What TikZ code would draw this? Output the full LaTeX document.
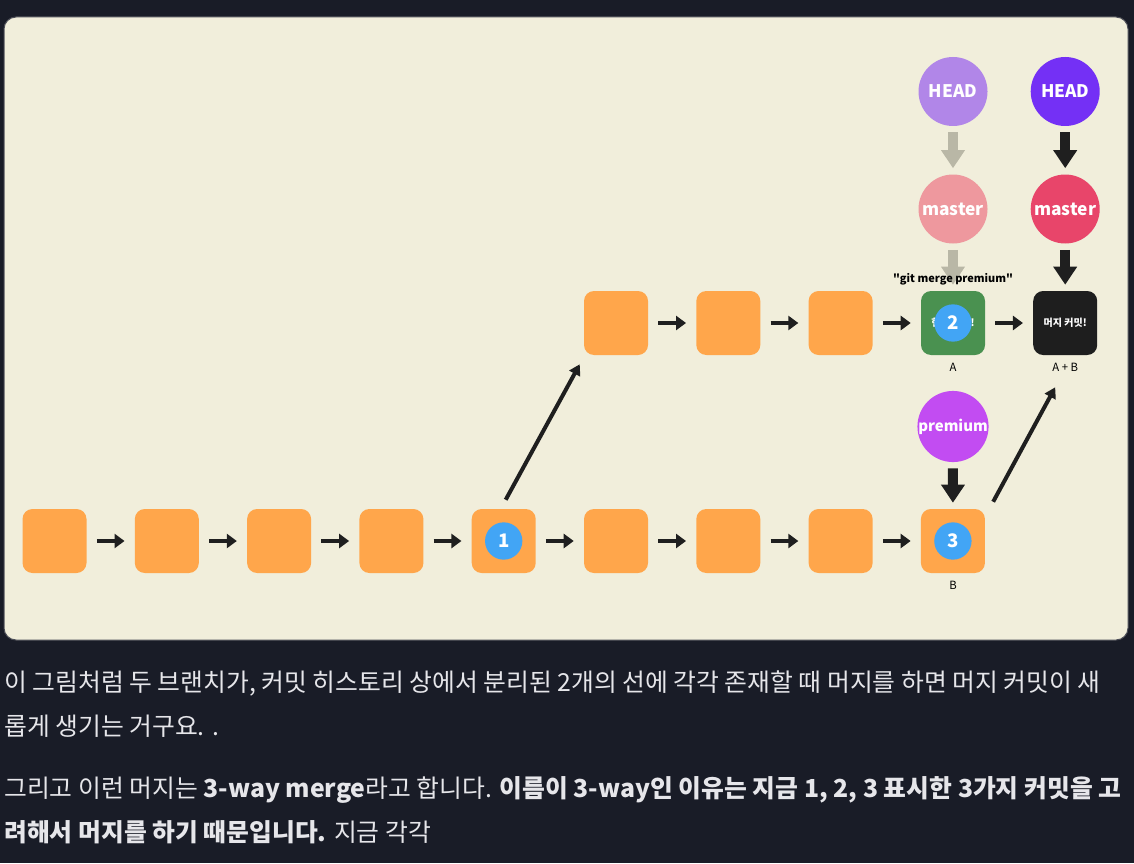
\documentclass[tikz,border=0pt]{standalone}
\usepackage{fontspec}
\setmainfont{Noto Sans CJK KR}
\usetikzlibrary{positioning, arrows.meta}

\definecolor{pagebg}{HTML}{191C27}
\definecolor{panelbg}{HTML}{F1EEDB}
\definecolor{commitorange}{HTML}{FFA64B}
\definecolor{numblue}{HTML}{42A5F5}
\definecolor{mergegreen}{HTML}{4A9150}
\definecolor{mergeblack}{HTML}{1E1E1E}
\definecolor{headlight}{HTML}{B186E8}
\definecolor{headdark}{HTML}{7430F5}
\definecolor{masterlight}{HTML}{EE989E}
\definecolor{masterdark}{HTML}{E8456A}
\definecolor{premiumpurple}{HTML}{C24CF2}
\definecolor{oldarrow}{HTML}{B9B7A6}
\definecolor{arrowblack}{HTML}{1F1F1F}
\definecolor{bodytext}{HTML}{E6E6EA}

\tikzset{
  commit/.style={fill=commitorange, rounded corners=7.5pt, minimum size=48pt, inner sep=0pt},
  numdot/.style={circle, fill=numblue, minimum size=28pt, inner sep=0pt, text=white,
    font=\bfseries\fontsize{14}{14}\selectfont},
  refdot/.style={circle, minimum size=51.75pt, inner sep=0pt, text=white,
    font=\bfseries\fontsize{13}{13}\selectfont},
  nextarrow/.style={-{Triangle[length=7.5pt,width=10.5pt]}, line width=3pt, arrowblack,
    shorten <=7.5pt, shorten >=7.5pt},
  pointer/.style={-{Triangle[length=13.5pt,width=17pt]}, line width=7.5pt,
    shorten <=4.5pt, shorten >=4.5pt},
  forkarrow/.style={-{Triangle[length=8pt,width=9pt]}, line width=3pt, arrowblack},
  tag/.style={font=\fontsize{8.5}{8.5}\selectfont, text=black, inner sep=0pt},
  para/.style={anchor=base west, text=bodytext, inner sep=0pt,
    font=\fontsize{18.6}{18.6}\selectfont},
}

\begin{document}
\begin{tikzpicture}[x=0.75pt, y=-0.75pt]
  \useasboundingbox (0,0) rectangle (1134,863);
  % Page and panel
  \fill[pagebg] (0,0) rectangle (1134,863);
  \filldraw[fill=panelbg, draw=white!22!pagebg, line width=0.75pt, rounded corners=9pt]
    (4,17) rectangle (1128,640);

  % Commits, lower line
  \foreach \i in {1,...,9}
    \node[commit] (b\i) at ({54.5+112.3*(\i-1)},541) {};
  \foreach \i [remember=\i as \last (initially 1)] in {2,...,9}
    \draw[nextarrow] (b\last) -- (b\i);

  % Commits, upper line
  \foreach \i/\c in {1/6,2/7,3/8}
    \node[commit] (t\i) at ({54.5+112.3*(\c-1)},323) {};
  \node[commit, fill=mergegreen, text=white, font=\bfseries\fontsize{7.5}{7.5}\selectfont]
    (t4) at (953,323) {현재 커밋!};
  \node[commit, fill=mergeblack, text=white, font=\bfseries\fontsize{7.5}{7.5}\selectfont]
    (t5) at (1065.2,323) {머지 커밋!};
  \foreach \i [remember=\i as \last (initially 1)] in {2,...,5}
    \draw[nextarrow] (t\last) -- (t\i);

  % Fork and merge
  \draw[forkarrow] ([xshift=1.5pt, yshift=6.75pt]b5.north) -- ([xshift=-3pt, yshift=-6.75pt]t1.south west);
  \draw[forkarrow] ([xshift=6pt, yshift=5.25pt]b9.north east) -- ([xshift=-7.5pt, yshift=-24pt]t5.south);

  % Numbered commits
  \node[numdot] (n1) at (b5) {1};
  \node[numdot] (n2) at (t4) {2};
  \node[numdot] (n3) at (b9) {3};

  % Labels
  \node[tag] (alabel) at (953,367) {A};
  \node[tag] (ablabel) at (1065.2,367) {A + B};
  \node[tag] (blabel) at (953,585) {B};

  % Pointers
  \node[refdot, fill=headlight] (oldhead) at (953,91.5) {HEAD};
  \node[refdot, fill=masterlight] (oldmaster) at (953,209) {master};
  \node[refdot, fill=headdark] (head) at (1065.2,91.5) {HEAD};
  \node[refdot, fill=masterdark] (master) at (1065.2,209) {master};
  \node[refdot, fill=premiumpurple, font=\bfseries\fontsize{11.2}{11.2}\selectfont]
    (premium) at (953,426.5) {premium};
  \draw[pointer, oldarrow] (oldhead) -- (oldmaster);
  \draw[pointer, oldarrow] (oldmaster) -- (t4);
  \draw[pointer, arrowblack] (head) -- (master);
  \draw[pointer, arrowblack] (master) -- (t5);
  \draw[pointer, arrowblack] (premium) -- (b9);
  \node[font=\bfseries\fontsize{8.2}{8.2}\selectfont, text=black, inner sep=1pt]
    (cmd) at (953,279) {\textquotedbl git merge premium\textquotedbl};

  % Text below
  \node[para] (line1) at (4,691) {이 그림처럼 두 브랜치가, 커밋 히스토리 상에서 분리된 2개의 선에 각각 존재할 때 머지를 하면 머지 커밋이 새};
  \node[para] (line2) at (4,735) {롭게 생기는 거구요. .};
  \node[para] (line3) at (4,797) {그리고 이런 머지는 \textbf{3-way merge}라고 합니다. \textbf{이름이 3-way인 이유는 지금 1, 2, 3 표시한 3가지 커밋을 고}};
  \node[para] (line4) at (4,841) {\textbf{려해서 머지를 하기 때문입니다.} 지금 각각};
\end{tikzpicture}
\end{document}
